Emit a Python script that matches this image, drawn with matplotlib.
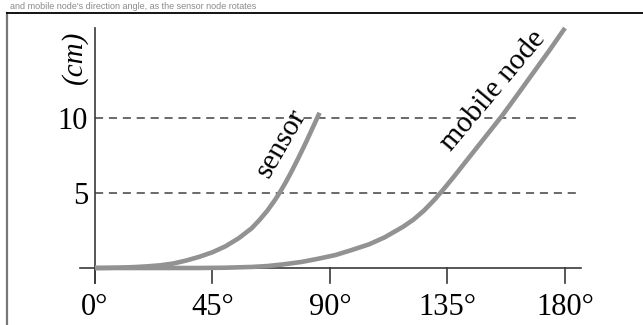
"""Displacement vs direction angle for sensor and mobile node."""
import matplotlib.pyplot as plt

# values
sensor_angle = [0, 5, 10, 15, 20, 25, 30, 35, 40, 45, 50, 55, 60, 63, 66, 69,
                71, 73, 75, 78, 81, 84.3, 85.3, 86]
sensor_cm = [0, 0.01, 0.03, 0.06, 0.11, 0.18, 0.3, 0.5, 0.75, 1.05, 1.45, 1.98,
             2.65, 3.2, 3.82, 4.55, 5.1, 5.7, 6.34, 7.37, 8.45, 9.7, 10.08, 10.35]

mobile_angle = [0, 30, 40, 50, 60, 66, 72, 79, 85, 92, 98, 105, 111, 118, 122,
                126, 130, 133, 137, 141, 146, 151, 156, 162, 168, 174, 180]
mobile_cm = [0, 0, 0, 0.02, 0.07, 0.13, 0.24, 0.4, 0.6, 0.86, 1.18, 1.58, 2.05,
             2.75, 3.23, 3.83, 4.55, 5.15, 5.99, 6.87, 7.97, 9.07, 10.17, 11.6,
             13.05, 14.5, 16.0]

x_ticks = [0, 45, 90, 135, 180]
x_tick_labels = ["0°", "45°", "90°", "135°", "180°"]
y_ticks = [5, 10]
y_tick_labels = ["5", "10"]

W, H = 643, 325
x0_px, px_per_deg = 95, 2.611
y0_px, px_per_cm = 268, 15.0

fig = plt.figure(figsize=(W / 100, H / 100), dpi=100)
ax = fig.add_axes([0, 0, 1, 1])
ax.set_xlim(-x0_px / px_per_deg, (W - x0_px) / px_per_deg)
ax.set_ylim((y0_px - H) / px_per_cm, y0_px / px_per_cm)
ax.axis("off")

serif = "Liberation Serif"
curve_c = "#929292"
axis_c = "#3a3a3a"

# outer frame of the scanned figure
ax.plot([7 / W, 7 / W], [0, 1 - 13 / H], transform=ax.transAxes,
        color="#777777", lw=1.6, clip_on=False)
ax.plot([7 / W, 1], [1 - 13 / H, 1 - 13 / H], transform=ax.transAxes,
        color="black", lw=1.3, clip_on=False)

# caption line above the frame (cut off in the scan)
ax.text(10 / W, 1 - 9 / H, "and mobile node's direction angle, as the sensor node rotates",
        transform=ax.transAxes, ha="left", va="baseline", fontsize=6.5,
        family="Liberation Sans", color="#8a8a8a")

# dashed reference lines
for yv in y_ticks:
    ax.plot([0, 186], [yv, yv], color="#5e5e5e", lw=1.3, dashes=(4.5, 3.2))

# axes
ax.plot([-5.8, 186.2], [0, 0], color=axis_c, lw=1.2)
ax.plot([0, 0], [-1, 16], color=axis_c, lw=1.2)
for xv, lab in zip(x_ticks, x_tick_labels):
    ax.plot([xv, xv], [0, -1], color=axis_c, lw=1.2)
    ax.text(xv, -3.13, lab, ha="center", va="baseline", fontsize=22, family=serif)
for yv, lab in zip(y_ticks, y_tick_labels):
    ax.text(-2.7, yv - 0.72, lab, ha="right", va="baseline", fontsize=22, family=serif)
ax.text(-8.0, 14.07, "(cm)", rotation=90, ha="center", va="center",
        fontsize=21, family=serif, style="italic")

# curves
ax.plot(sensor_angle, sensor_cm, color=curve_c, lw=3.3, solid_capstyle="butt",
        solid_joinstyle="round")
ax.plot(mobile_angle, mobile_cm, color=curve_c, lw=3.3, solid_capstyle="butt",
        solid_joinstyle="round")

ax.text(71.5, 8.3, "sensor", rotation=60, ha="center", va="center",
        fontsize=21, family=serif, rotation_mode="anchor")
ax.text(152.5, 11.8, "mobile node", rotation=50, ha="center", va="center",
        fontsize=21.5, family=serif, rotation_mode="anchor")

fig.savefig("out.png", dpi=100)
